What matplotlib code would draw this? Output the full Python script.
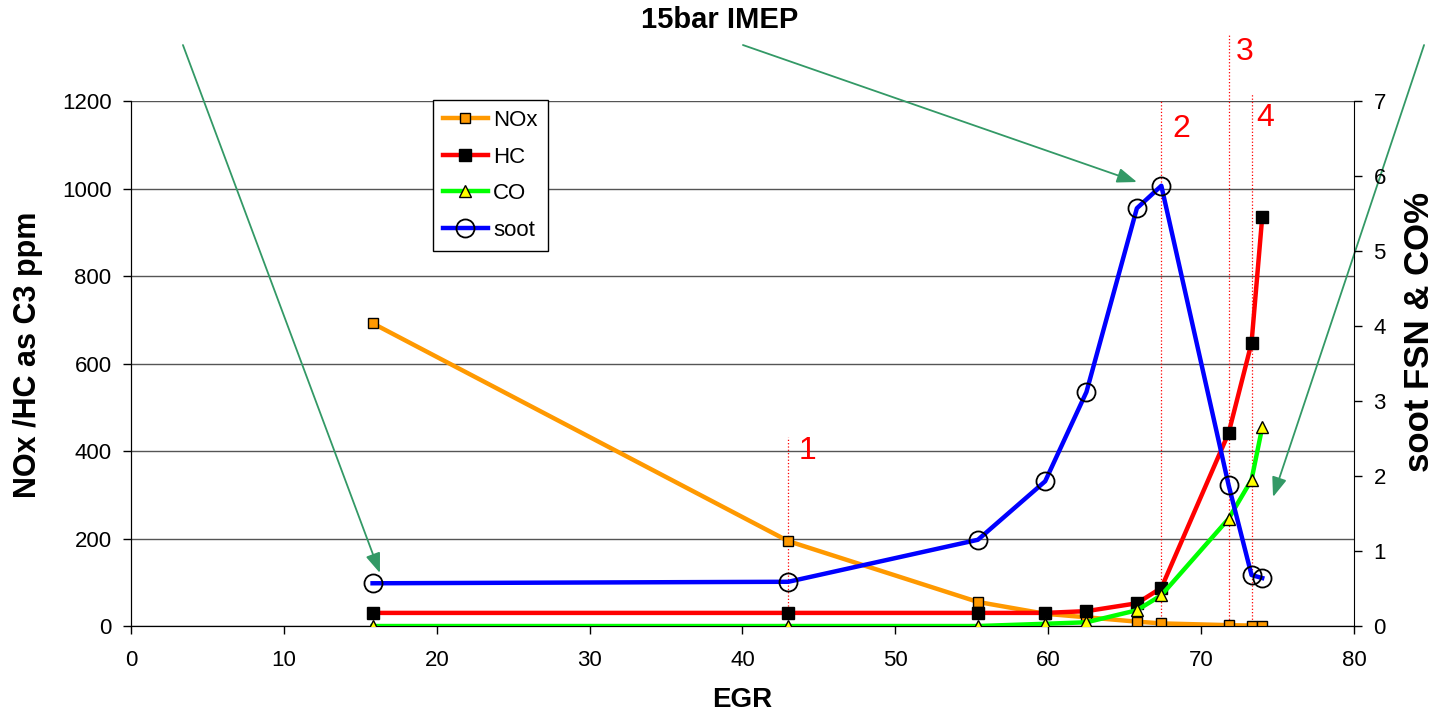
import matplotlib
matplotlib.use("Agg")
import matplotlib.pyplot as plt

plt.rcParams["font.family"] = ["Liberation Sans", "DejaVu Sans"]

# EGR sweep at 15 bar IMEP
egr = [15.8, 43.0, 55.4, 59.8, 62.5, 65.8, 67.4, 71.8, 73.3, 74.0]
nox = [692, 194, 55, 28, 20, 10, 6, 2, 1, 1]          # ppm
hc = [30, 30, 30, 30, 34, 52, 87, 441, 647, 935]       # ppm C3
co = [0.0, 0.0, 0.0, 0.03, 0.05, 0.21, 0.41, 1.43, 1.95, 2.65]   # %
soot = [0.57, 0.59, 1.15, 1.93, 3.12, 5.57, 5.87, 1.88, 0.68, 0.64]  # FSN

# marked operating points: (EGR, top of guide line in ppm, label, label x, label y)
marks = [
    (43.0, 432, "1", 43.7, 400),
    (67.4, 1203, "2", 68.1, 1135),
    (71.8, 1350, "3", 72.3, 1312),
    (73.3, 1218, "4", 73.6, 1162),
]

fig = plt.figure(figsize=(14.37, 7.18), dpi=100)
ax = fig.add_axes([0.0912, 0.1281, 0.851, 0.7312])
ax2 = ax.twinx()

ax.set_xlim(0, 80)
ax.set_ylim(0, 1200)
ax2.set_ylim(0, 7)
ax.set_xticks(range(0, 81, 10))
ax.set_yticks(range(0, 1201, 200))
ax2.set_yticks(range(0, 8))

ax.yaxis.grid(True, color="#555555", lw=1.0)
ax.set_axisbelow(True)
for a in (ax, ax2):
    a.spines["top"].set_visible(False)
    a.tick_params(labelsize=16, direction="out", length=6, width=1, pad=8)
ax.tick_params(axis="x", pad=11)
ax.spines["right"].set_visible(False)

lw = 3.2
l_nox, = ax.plot(egr, nox, color="#FF9900", lw=lw, marker="s", ms=7,
                 mfc="#FF9900", mec="black", mew=1.0, label="NOx", zorder=3)
l_hc, = ax.plot(egr, hc, color="#FF0000", lw=lw, marker="s", ms=8,
                mfc="black", mec="black", label="HC", zorder=3)
l_co, = ax2.plot(egr, co, color="#00FF00", lw=lw, marker="^", ms=8,
                 mfc="#FFFF00", mec="black", mew=1.0, label="CO", zorder=3)
l_soot, = ax2.plot(egr, soot, color="#0000FF", lw=lw, marker="o", ms=13,
                   mfc="none", mec="black", mew=1.3, label="soot", zorder=4)

for x, top, txt, tx, ty in marks:
    ax.plot([x, x], [0, top], color="red", lw=0.9, ls=":", clip_on=False, zorder=2)
    ax.text(tx, ty, txt, color="red", fontsize=23, ha="left", va="center")

leg = ax2.legend(handles=[l_nox, l_hc, l_co, l_soot], loc="upper left",
                 bbox_to_anchor=(0.247, 1.002), borderaxespad=0, fontsize=16,
                 fancybox=False, framealpha=1, edgecolor="black",
                 handlelength=2.0, handletextpad=0.25, borderpad=0.45,
                 labelspacing=0.7)
leg.get_frame().set_linewidth(1.0)

ax.set_xlabel("EGR", fontsize=20, fontweight="bold")
ax.xaxis.set_label_coords(0.5, -0.116)
ax.set_ylabel("NOx /HC as C3 ppm", fontsize=22, fontweight="bold")
ax.yaxis.set_label_coords(-0.072, 0.516)
ax2.set_ylabel("soot FSN & CO%", fontsize=25, fontweight="bold")
ax2.yaxis.set_label_coords(1.040, 0.56)
fig.text(0.501, 0.972, "15bar IMEP", fontsize=21, fontweight="bold",
         ha="center", va="center")

# pointer arrows
arrows = [
    ((0.1273, 0.9373), (0.2644, 0.2019)),
    ((0.5170, 0.9373), (0.7912, 0.7465)),
    ((0.9910, 0.9373), (0.8859, 0.3078)),
]
for start, end in arrows:
    ax.annotate("", xy=end, xycoords="figure fraction", xytext=start,
                textcoords="figure fraction", annotation_clip=False,
                arrowprops=dict(arrowstyle="-|>,head_length=1.2,head_width=0.45",
                                color="#339966", lw=1.3, shrinkA=0, shrinkB=0))

fig.savefig("out.png", dpi=100)
